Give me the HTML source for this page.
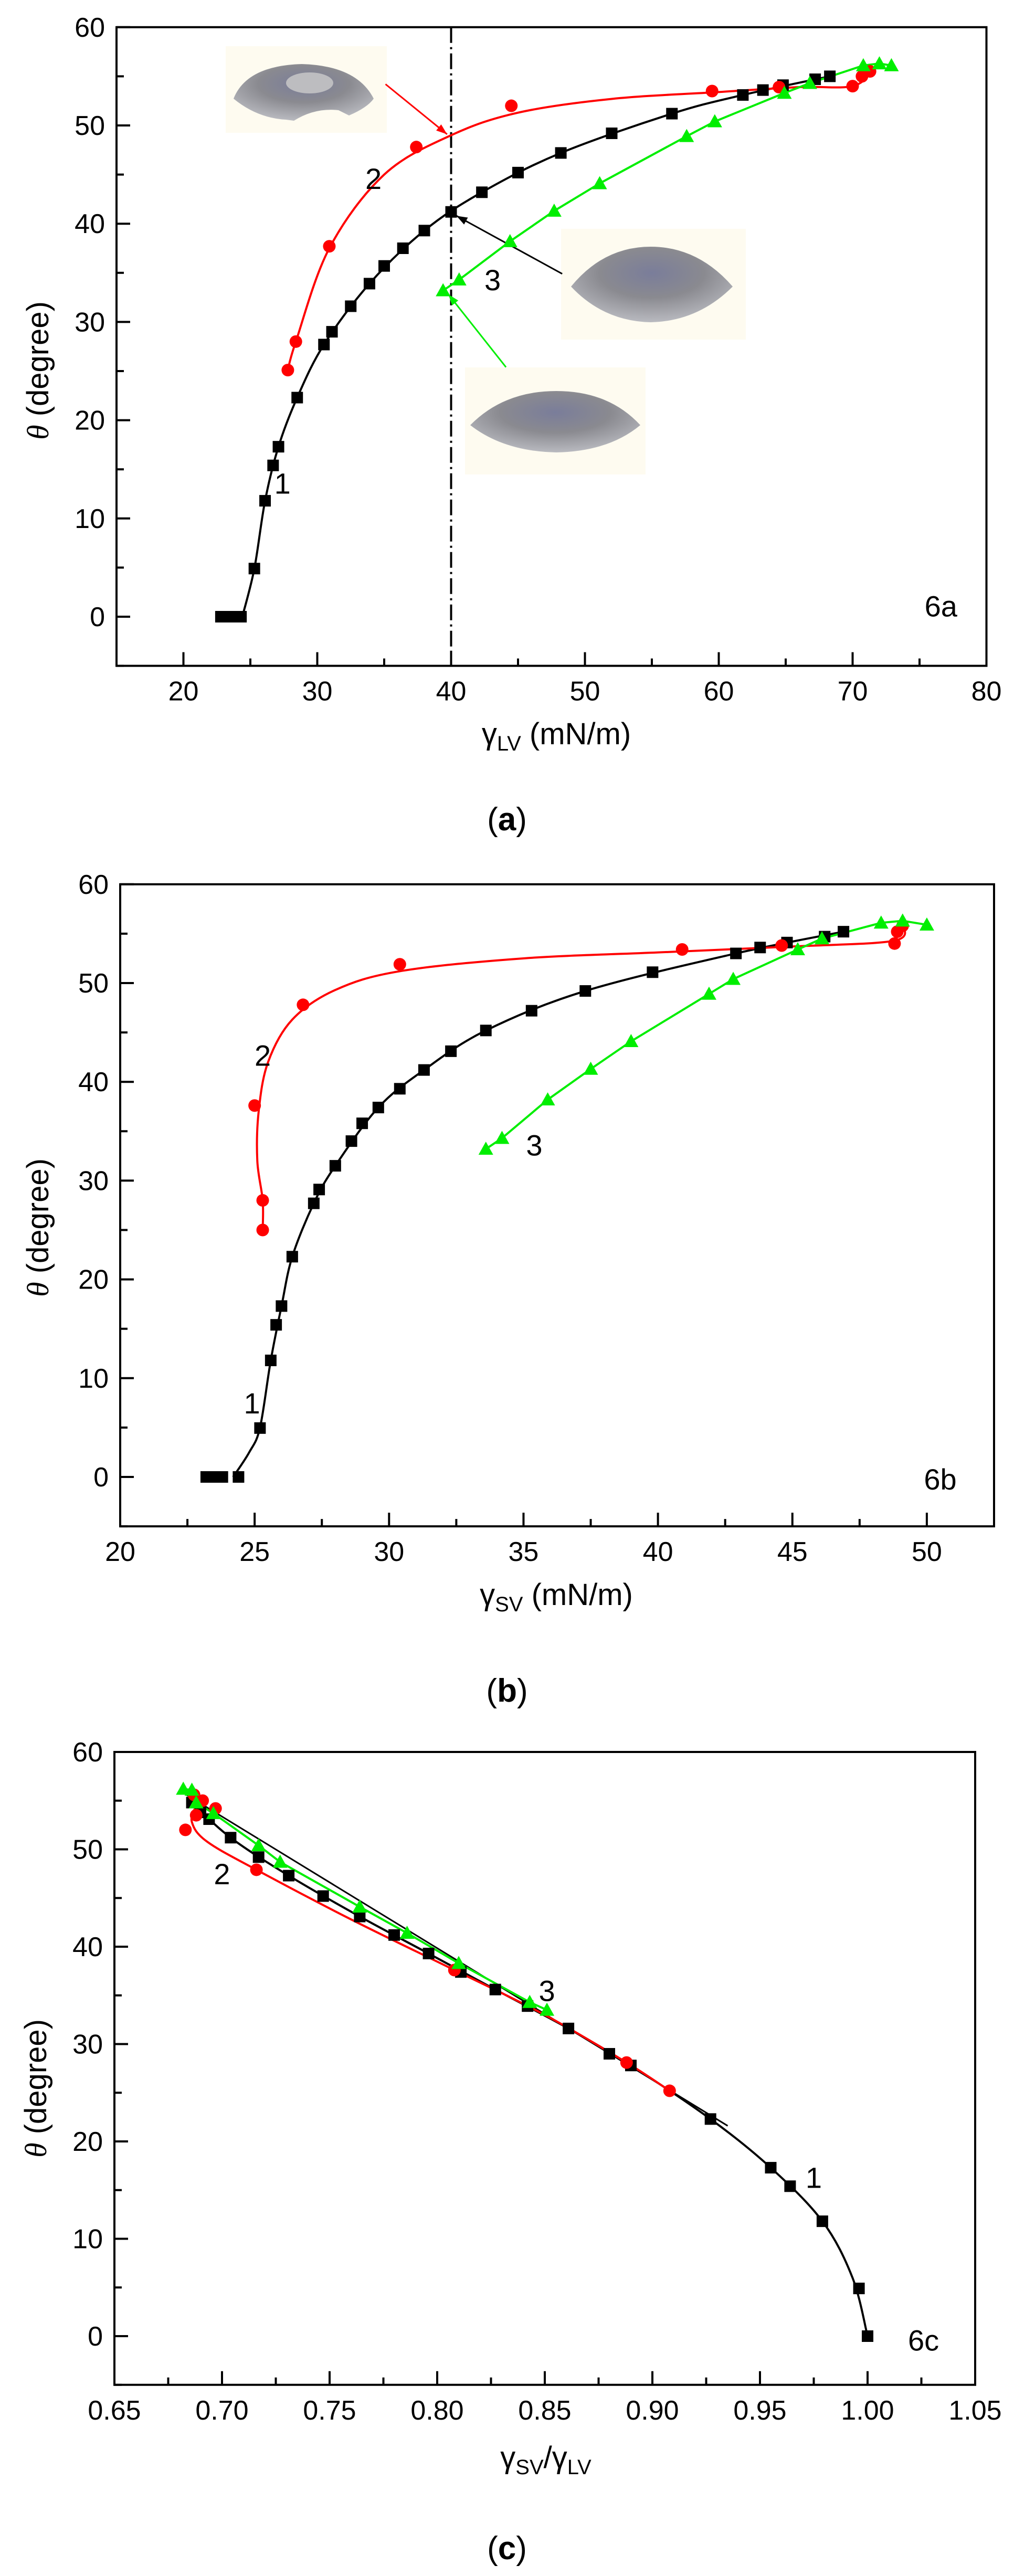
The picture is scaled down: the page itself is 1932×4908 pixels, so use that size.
<!DOCTYPE html>
<html><head><meta charset="utf-8">
<style>
html,body{margin:0;padding:0;background:#fff;}
svg{display:block;}
text{font-family:"Liberation Sans",Arial,sans-serif;fill:#000;}
</style></head>
<body>
<svg id="s" xmlns="http://www.w3.org/2000/svg" width="1932" height="4908" viewBox="0 0 1932 4908">
<defs>
<radialGradient id="lg" cx="50%" cy="35%" r="65%">
<stop offset="0" stop-color="#7a7d9a"/><stop offset="0.5" stop-color="#8a8a90"/><stop offset="1" stop-color="#b9bac0"/>
</radialGradient>
</defs>
<rect x="430" y="88" width="307" height="165" fill="#fefbf0"/>
<path d="M445,188 Q470,125 575,122 Q680,125 712,188 Q700,205 665,220 L645,210 Q600,205 560,230 L545,228 Q490,225 445,188 Z" fill="url(#lg)"/>
<ellipse cx="590" cy="158" rx="45" ry="20" fill="#bdbdc0"/>
<rect x="1069" y="436" width="352" height="211" fill="#fefbf0"/>
<path d="M1088,546 Q1150,470 1240,470 Q1330,470 1396,546 Q1330,612 1240,614 Q1150,612 1088,546 Z" fill="url(#lg)"/>
<rect x="886" y="700" width="344" height="204" fill="#fefbf0"/>
<path d="M896,810 Q960,745 1060,745 Q1160,745 1220,810 Q1160,860 1060,862 Q960,860 896,810 Z" fill="url(#lg)"/>
<g id="g"></g>
</svg>
<script>
var NS="http://www.w3.org/2000/svg",G=document.getElementById('g');
function el(t,a,txt){var e=document.createElementNS(NS,t);for(var k in a)e.setAttribute(k,a[k]);if(txt!=null)e.textContent=txt;G.appendChild(e);return e;}
function spline(pts){var d="M"+pts[0][0]+","+pts[0][1];for(var i=0;i<pts.length-1;i++){var p0=pts[i-1]||pts[i],p1=pts[i],p2=pts[i+1],p3=pts[i+2]||p2;
var c1=[p1[0]+(p2[0]-p0[0])/6,p1[1]+(p2[1]-p0[1])/6],c2=[p2[0]-(p3[0]-p1[0])/6,p2[1]-(p3[1]-p1[1])/6];
d+=" C"+c1[0]+","+c1[1]+" "+c2[0]+","+c2[1]+" "+p2[0]+","+p2[1];}return d;}
function panel(P){
 var X=function(v){return P.x0+(v-P.xmin)*P.sx},Y=function(v){return P.y0-v*P.sy};
 var L=P.x0,R=X(P.xmax),T=Y(60),B=Y(-5);
 el('rect',{x:L,y:T,width:R-L,height:B-T,fill:'none',stroke:'#000','stroke-width':4});
 for(var v=-5;v<=60;v+=5){var y=Y(v),mj=(v%10==0);el('line',{x1:L,y1:y,x2:L+(mj?26:14),y2:y,stroke:'#000','stroke-width':4});
  if(mj)el('text',{x:L-22,y:y+18,'font-size':52,'text-anchor':'end'},String(v));}
 var h=P.xstep/2;
 for(var i=0;;i++){var v=P.xmin+i*h;if(v>P.xmax+1e-9)break;var x=X(v),r=v/P.xstep,mj=Math.abs(r-Math.round(r))<1e-6;
  if(i>0&&v<P.xmax-1e-9)el('line',{x1:x,y1:B,x2:x,y2:B-(mj?26:14),stroke:'#000','stroke-width':4});
  if(mj)el('text',{x:x,y:B+66,'font-size':52,'text-anchor':'middle'},P.fmt(v));}
 var t=el('text',{x:0,y:0,'font-size':58,'text-anchor':'middle',transform:'translate('+P.ytx+','+P.yty+') rotate(-90)'});
 var a=document.createElementNS(NS,'tspan');a.setAttribute('font-style','italic');a.setAttribute('font-family','Liberation Serif, serif');a.textContent='θ';t.appendChild(a);
 var b=document.createElementNS(NS,'tspan');b.textContent=' (degree)';t.appendChild(b);
 var xt=el('text',{x:P.xtx,y:P.xty,'font-size':58,'text-anchor':'middle'});xt.innerHTML=P.xtitle;
 var c=el('text',{x:966,y:P.cy,'font-size':62,'text-anchor':'middle','font-family':'Liberation Serif, serif'});c.innerHTML='(<tspan font-weight="bold">'+P.cap+'</tspan>)';
 if(P.extra)P.extra(X,Y);
 function mp(a){return a.map(function(p){return [X(p[0]),Y(p[1])]})}
 P.curves.forEach(function(c){el('path',{d:c.poly?('M'+mp(c.p).map(function(q){return q.join(',')}).join(' L')):spline(mp(c.p)),fill:'none',stroke:c.col,'stroke-width':c.w||4});});
 P.sq.forEach(function(p){el('rect',{x:X(p[0])-11,y:Y(p[1])-11,width:22,height:22,fill:'#000'});});
 P.ci.forEach(function(p){el('circle',{cx:X(p[0]),cy:Y(p[1]),r:12,fill:'#f00'});});
 P.tr.forEach(function(p){var x=X(p[0]),y=Y(p[1]);el('polygon',{points:(x-14)+','+(y+11)+' '+(x+14)+','+(y+11)+' '+x+','+(y-14),fill:'#00ee00'});});
 P.labels.forEach(function(l){el('text',{x:X(l[0]),y:Y(l[1])+20,'font-size':56,'text-anchor':'middle'},l[2]);});
}
var sqA=[[22.8,0],[23.6,0],[24.3,0],[25.3,4.9],[26.1,11.8],[26.7,15.4],[27.1,17.3],[28.5,22.3],[30.5,27.7],[31.1,29],[32.5,31.6],[33.9,33.9],[35,35.7],[36.4,37.5],[38,39.3],[40,41.2],[42.3,43.2],[45,45.2],[48.2,47.2],[52,49.2],[56.5,51.2],[61.8,53.1],[63.3,53.6],[64.8,54.1],[67.2,54.7],[68.3,55]];
var ciA=[[27.8,25.1],[28.4,28],[30.9,37.7],[37.4,47.8],[44.5,52],[59.5,53.5],[64.5,53.9],[70,54],[70.7,55],[71.3,55.5]];
var trA=[[39.4,33.2],[40.6,34.3],[44.4,38.2],[47.7,41.3],[51.1,44.1],[57.6,48.9],[59.7,50.4],[64.9,53.3],[66.8,54.3],[70.8,56.1],[72,56.3],[72.9,56.1]];
panel({x0:222,xmin:15,xmax:80,sx:25.5,y0:1175,sy:18.72,xstep:10,fmt:function(v){return String(Math.round(v))},
 ytx:92,yty:706,xtx:1060,xty:1418,xtitle:'γ<tspan font-size="40" dy="12">LV</tspan><tspan dy="-12"> (mN/m)</tspan>',cap:'a',cy:1582,
 sq:sqA,ci:ciA,tr:trA,
 curves:[{p:[[24.4,0],[25.3,4.9],[26.1,11.8],[27.1,17.3],[28.5,22.3],[30.5,27.7],[33.9,33.9],[38,39.3],[42.3,43.2],[48.2,47.2],[56.5,51.2],[61.8,53.1],[68.3,55]],col:'#000'},
  {p:[[27.8,25.1],[28.4,28],[30.9,37.5],[35,45],[40,49],[45,51.3],[52,52.7],[60,53.4],[66,53.9],[70,54],[71.5,55.6]],col:'#f00'},
  {p:trA,col:'#00ee00',poly:1}],
 labels:[[27.4,13.6,'1'],[34.2,44.6,'2'],[43.1,34.3,'3'],[76.6,1.1,'6a']],
 extra:function(X,Y){
  el('line',{x1:X(40),y1:Y(60),x2:X(40),y2:Y(-5),stroke:'#000','stroke-width':4,'stroke-dasharray':'30,8,4,8'});
  function arr(x1,y1,x2,y2,c){el('line',{x1:X(x1),y1:Y(y1),x2:X(x2),y2:Y(y2),stroke:c,'stroke-width':3});
   var ang=Math.atan2(Y(y2)-Y(y1),X(x2)-X(x1)),x=X(x2),y=Y(y2),s=22;
   el('polygon',{points:x+','+y+' '+(x-s*Math.cos(ang-0.35))+','+(y-s*Math.sin(ang-0.35))+' '+(x-s*Math.cos(ang+0.35))+','+(y-s*Math.sin(ang+0.35)),fill:c});}
  arr(35.1,54.2,39.7,49.1,'#f00');arr(48.3,34.9,40.4,40.8,'#000');arr(44.1,25.4,39.8,32.8,'#00ee00');}
});
var trB=[[33.6,33.2],[34.2,34.3],[35.9,38.2],[37.5,41.3],[39,44.1],[41.9,48.9],[42.8,50.4],[45.2,53.4],[46.1,54.5],[48.3,56.1],[49.1,56.3],[50,55.9]];
panel({x0:229,xmin:20,xmax:52.5,sx:51.23,y0:2814,sy:18.82,xstep:5,fmt:function(v){return String(Math.round(v))},
 ytx:92,yty:2339,xtx:1060,xty:3058,xtitle:'γ<tspan font-size="40" dy="12">SV</tspan><tspan dy="-12"> (mN/m)</tspan>',cap:'b',cy:3242,
 sq:[[23.2,0],[23.5,0],[23.8,0],[24.4,0],[25.2,4.95],[25.6,11.8],[25.8,15.4],[26,17.3],[26.4,22.3],[27.2,27.7],[27.4,29.1],[28,31.5],[28.6,34],[29,35.8],[29.6,37.4],[30.4,39.3],[31.3,41.2],[32.3,43.1],[33.6,45.2],[35.3,47.2],[37.3,49.2],[39.8,51.1],[42.9,53],[43.8,53.6],[44.8,54.1],[46.2,54.7],[46.9,55.2]],
 ci:[[25.3,25],[25.3,28],[25,37.6],[26.8,47.8],[30.4,51.9],[40.9,53.4],[44.6,53.8],[48.8,54],[48.9,55.2],[49.1,55.8]],
 tr:trB,
 curves:[{p:[[24.2,0],[24.8,2.5],[25.2,5],[25.6,11.8],[26,17.3],[26.4,22.3],[27.2,27.7],[28,31.5],[29.6,37.4],[31.3,41.2],[33.6,45.2],[37.3,49.2],[42.9,53],[46.9,55.2]],col:'#000'},
  {p:[[25.3,25],[25.3,28],[25.1,32],[25.15,37],[25.5,42],[26.4,46.3],[28,49.3],[30.4,51.2],[35,52.5],[40,53.1],[45,53.7],[48.8,54.3],[49.1,56]],col:'#f00'},
  {p:trB,col:'#00ee00',poly:1}],
 labels:[[24.9,7.5,'1'],[25.3,42.7,'2'],[35.4,33.6,'3'],[50.5,-0.2,'6b']]
});
var trC=[[0.682,56.2],[0.686,56.1],[0.688,54.8],[0.696,53.7],[0.717,50.4],[0.727,48.7],[0.764,44.1],[0.786,41.4],[0.81,38.3],[0.843,34.3],[0.851,33.5]];
panel({x0:218,xmin:0.65,xmax:1.05,sx:4100,y0:4451,sy:18.55,xstep:0.05,fmt:function(v){return v.toFixed(2)},
 ytx:88,yty:3979,xtx:1040,xty:4702,xtitle:'γ<tspan font-size="40" dy="12">SV</tspan><tspan dy="-12">/γ</tspan><tspan font-size="40" dy="12">LV</tspan>',cap:'c',cy:4876,
 sq:[[1,0],[0.996,4.9],[0.979,11.8],[0.964,15.4],[0.955,17.3],[0.927,22.3],[0.89,27.8],[0.88,29],[0.861,31.6],[0.842,33.9],[0.827,35.6],[0.811,37.4],[0.796,39.3],[0.78,41.2],[0.764,43.1],[0.747,45.2],[0.731,47.3],[0.717,49.2],[0.704,51.2],[0.694,53.1],[0.69,53.8],[0.686,54.8]],
 ci:[[0.908,25.2],[0.888,28.1],[0.808,37.6],[0.716,47.9],[0.683,52],[0.688,53.5],[0.697,54.2],[0.691,55],[0.687,55.6]],
 tr:trC,
 curves:[{p:[[0.682,55.8],[0.935,21.6]],col:'#000',poly:1,w:3},
  {p:[[0.686,54.8],[0.704,51.2],[0.731,47.3],[0.764,43.1],[0.796,39.3],[0.827,35.6],[0.861,31.6],[0.89,27.8],[0.927,22.3],[0.955,17.3],[0.979,11.8],[0.993,6],[1,0]],col:'#000'},
  {p:[[0.908,25.2],[0.888,28.1],[0.85,33],[0.808,37.6],[0.76,42.8],[0.716,47.9],[0.693,50.8],[0.686,52.8],[0.688,54.5],[0.69,55.5]],col:'#f00'},
  {p:trC,col:'#00ee00',poly:1}],
 labels:[[0.975,16.3,'1'],[0.7,47.5,'2'],[0.851,35.5,'3'],[1.026,-0.4,'6c']]
});
</script>
</body></html>
